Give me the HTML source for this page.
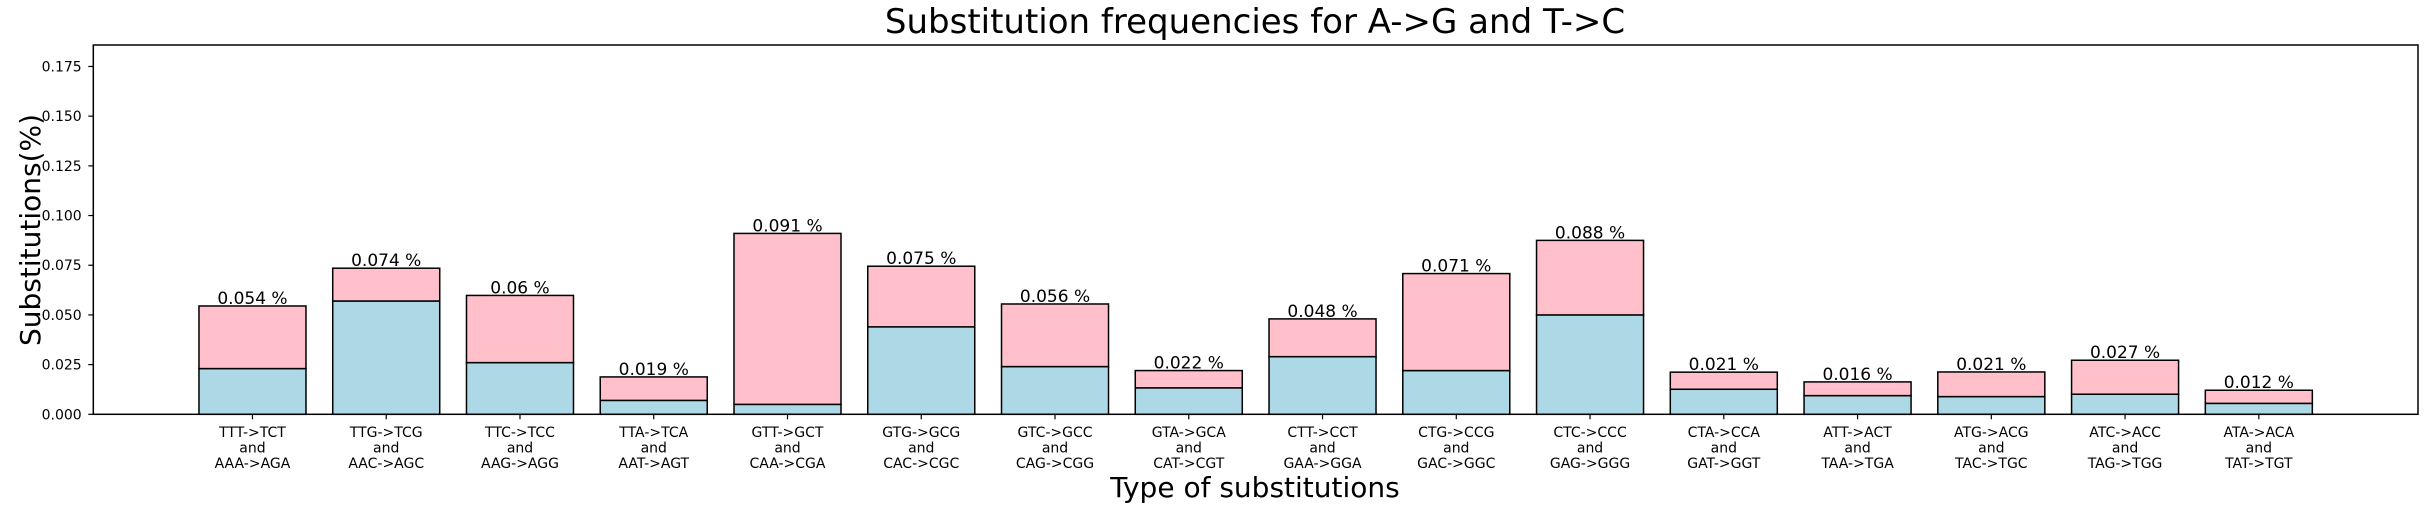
<!DOCTYPE html>
<html><head><meta charset="utf-8"><style>
html,body{margin:0;padding:0;background:#fff;}
svg{display:block;font-family:"DejaVu Sans","Liberation Sans",sans-serif;}
</style></head><body>
<svg id="chart" width="2428" height="514" viewBox="0 0 2428 514" xmlns="http://www.w3.org/2000/svg">
<text x="1255" y="33" font-size="34" text-anchor="middle">Substitution frequencies for A-&gt;G and T-&gt;C</text>
<text x="0" y="0" font-size="28" text-anchor="middle" transform="translate(40,230) rotate(-90)">Substitutions(%)</text>
<text x="1255" y="497" font-size="28" text-anchor="middle">Type of substitutions</text>
<g id="bars"></g>
<g id="yticks"></g>
<g id="xticks"></g>
<rect x="93.3" y="45" width="2324.7" height="369.3" fill="none" stroke="#000" stroke-width="1.5"/>
</svg>
<script>
const categoriesTop = ["TTT->TCT","TTG->TCG","TTC->TCC","TTA->TCA","GTT->GCT","GTG->GCG","GTC->GCC","GTA->GCA","CTT->CCT","CTG->CCG","CTC->CCC","CTA->CCA","ATT->ACT","ATG->ACG","ATC->ACC","ATA->ACA"];
const categoriesBottom = ["AAA->AGA","AAC->AGC","AAG->AGG","AAT->AGT","CAA->CGA","CAC->CGC","CAG->CGG","CAT->CGT","GAA->GGA","GAC->GGC","GAG->GGG","GAT->GGT","TAA->TGA","TAC->TGC","TAG->TGG","TAT->TGT"];
const blueValues = [0.023,0.057,0.026,0.007,0.005,0.044,0.024,0.0133,0.029,0.022,0.050,0.0126,0.0094,0.0089,0.0101,0.0055];
const totalValues = [0.0545,0.0735,0.0598,0.0188,0.091,0.0745,0.0555,0.022,0.048,0.0708,0.0875,0.0212,0.0163,0.0213,0.0272,0.0121];
const valueLabels = ["0.054 %","0.074 %","0.06 %","0.019 %","0.091 %","0.075 %","0.056 %","0.022 %","0.048 %","0.071 %","0.088 %","0.021 %","0.016 %","0.021 %","0.027 %","0.012 %"];
const yTickValues = [0,0.025,0.05,0.075,0.1,0.125,0.15,0.175];
const yTickLabels = ["0.000","0.025","0.050","0.075","0.100","0.125","0.150","0.175"];

const NS="http://www.w3.org/2000/svg";
const AX_L=93.3, AX_R=2418, AX_T=45, AX_B=414.3;
const XMIN=-1.19, XMAX=16.19, YMAX=0.1858;
function xs(v){return AX_L+(v-XMIN)/(XMAX-XMIN)*(AX_R-AX_L);}
function ys(v){return AX_B-v/YMAX*(AX_B-AX_T);}
const bw=(xs(0.8)-xs(0));
function mk(tag,attrs,parent){const e=document.createElementNS(NS,tag);for(const k in attrs)e.setAttribute(k,attrs[k]);parent.appendChild(e);return e;}
const gb=document.getElementById('bars'), gy=document.getElementById('yticks'), gx=document.getElementById('xticks');
categoriesTop.forEach((c,i)=>{
  const cx=xs(i);
  const b=mk('rect',{x:cx-bw/2,y:ys(blueValues[i]),width:bw,height:ys(0)-ys(blueValues[i]),fill:'#ADD8E6',stroke:'#000','stroke-width':1.5},gb);
  
  
  const p=mk('rect',{x:cx-bw/2,y:ys(totalValues[i]),width:bw,height:ys(blueValues[i])-ys(totalValues[i]),fill:'#FFC0CB',stroke:'#000','stroke-width':1.5},gb);
  
  
  const t=mk('text',{x:cx,y:ys(totalValues[i])-2,'font-size':17,'text-anchor':'middle'},gb);
  t.textContent=valueLabels[i];
  
  
  const tk=mk('line',{x1:cx,x2:cx,y1:AX_B,y2:AX_B+5,stroke:'#000','stroke-width':1.2},gx);
  
  
  const tl=mk('text',{x:cx,y:437,'font-size':14,'text-anchor':'middle'},gx);
  
  
  [c,'and',categoriesBottom[i]].forEach((s,j)=>{const ts=mk('tspan',{x:cx,y:437+j*15.5},tl);ts.textContent=s;});
});
yTickValues.forEach((v,i)=>{
  const y=ys(v);
  const l=mk('line',{x1:AX_L-5,x2:AX_L,y1:y,y2:y,stroke:'#000','stroke-width':1.2},gy);
  
  
  const t=mk('text',{x:81.7,y:y+5,'font-size':14,'text-anchor':'end'},gy);
  t.textContent=yTickLabels[i];
  
  
});
</script>
</body></html>
